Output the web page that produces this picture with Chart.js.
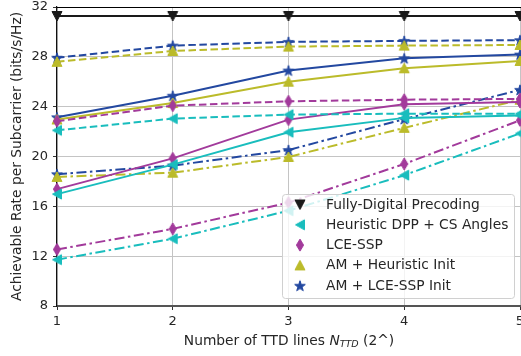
<!DOCTYPE html>
<html>
<head>
<meta charset="utf-8">
<script src="https://cdn.jsdelivr.net/npm/chart.js@4.4.1/dist/chart.umd.min.js"></script>
<style>
  html, body { margin: 0; padding: 0; background: #fff; overflow: hidden; }
  #wrap { width: 521px; height: 356px; overflow: hidden; }
</style>
</head>
<body>
<div id="wrap"><canvas id="rateChart" width="540" height="356"></canvas></div>
<script>
// number of TTD lines (log2)
var nTTD = [1, 2, 3, 4, 5];
var yTicks = [8, 12, 16, 20, 24, 28, 32];

var fullDigital = [31.28, 31.28, 31.28, 31.28, 31.28];

// Heuristic DPP + CS angles
var dppSolid   = [16.98, 19.35, 21.95, 23.1, 23.3];
var dppDashed  = [22.1, 23.04, 23.36, 23.44, 23.44];
var dppDashdot = [11.72, 13.4, 15.65, 18.5, 21.85];

// LCE-SSP
var lceSolid   = [17.38, 19.85, 22.96, 24.2, 24.37];
var lceDashed  = [22.83, 24.08, 24.43, 24.56, 24.62];
var lceDashdot = [12.54, 14.19, 16.3, 19.4, 22.9];

// AM + heuristic init
var amhSolid   = [22.97, 24.29, 26.0, 27.08, 27.67];
var amhDashed  = [27.6, 28.47, 28.82, 28.9, 28.95];
var amhDashdot = [18.36, 18.7, 19.96, 22.3, 24.56];

// AM + LCE-SSP init
var amlSolid   = [23.15, 24.88, 26.9, 27.88, 28.18];
var amlDashed  = [27.93, 28.9, 29.2, 29.28, 29.34];
var amlDashdot = [18.58, 19.27, 20.52, 23.0, 25.35];

var legendNames = ['Fully-Digital Precoding', 'Heuristic DPP + CS Angles', 'LCE-SSP', 'AM + Heuristic Init', 'AM + LCE-SSP Init'];

var BLACK = '#1a1a1a';
var CYAN = '#19bdbd';
var PURPLE = '#a23a9b';
var OLIVE = '#bbbb2a';
var BLUE = '#2348a0';

var SOLID = [];
var DASHED = [7.5, 3.5];
var DASHDOT = [10, 3.5, 2.5, 3.5];

var LABEL_FONT = '13.8px "DejaVu Sans"';

function makeMarker(kind, color) {
    var c = document.createElement('canvas');
    c.width = 16; c.height = 16;
    var g = c.getContext('2d');
    g.fillStyle = color;
    g.strokeStyle = color;
    g.lineWidth = 1;
    g.beginPath();
    if (kind === 'down') {
        g.moveTo(3, 3.5); g.lineTo(13, 3.5); g.lineTo(8, 13);
    } else if (kind === 'left') {
        g.moveTo(3.5, 8); g.lineTo(12.5, 3); g.lineTo(12.5, 13);
    } else if (kind === 'up') {
        g.moveTo(8, 3); g.lineTo(13, 12.5); g.lineTo(3, 12.5);
    } else if (kind === 'diamond') {
        g.moveTo(8, 2); g.lineTo(11.6, 8); g.lineTo(8, 14); g.lineTo(4.4, 8);
    } else if (kind === 'star') {
        for (var i = 0; i < 10; i++) {
            var r = (i % 2) ? 2.2 : 5.6;
            var a = -Math.PI / 2 + i * Math.PI / 5;
            var px = 8 + r * Math.cos(a), py = 8.5 + r * Math.sin(a);
            if (i === 0) g.moveTo(px, py); else g.lineTo(px, py);
        }
    }
    g.closePath();
    g.fill();
    g.stroke();
    return c;
}

var markers = [
    makeMarker('down', BLACK),
    makeMarker('left', CYAN),
    makeMarker('diamond', PURPLE),
    makeMarker('up', OLIVE),
    makeMarker('star', BLUE)
];

function toPoints(vals) {
    return nTTD.map(function(x, i) { return { x: x, y: vals[i] }; });
}

function series(vals, color, dash, marker) {
    return {
        data: toPoints(vals),
        borderColor: color,
        backgroundColor: color,
        borderWidth: 2,
        borderDash: dash,
        pointStyle: marker || false,
        pointRadius: marker ? 5 : 0,
        fill: false,
        tension: 0,
        clip: false
    };
}

var datasets = [
    series(fullDigital, BLACK, SOLID, markers[0]),
    series(dppSolid, CYAN, SOLID, markers[1]),
    series(dppDashed, CYAN, DASHED, markers[1]),
    series(dppDashdot, CYAN, DASHDOT, markers[1]),
    series(lceSolid, PURPLE, SOLID, markers[2]),
    series(lceDashed, PURPLE, DASHED, markers[2]),
    series(lceDashdot, PURPLE, DASHDOT, markers[2]),
    series(amhSolid, OLIVE, SOLID, markers[3]),
    series(amhDashed, OLIVE, DASHED, markers[3]),
    series(amhDashdot, OLIVE, DASHDOT, markers[3]),
    series(amlSolid, BLUE, SOLID, markers[4]),
    series(amlDashed, BLUE, DASHED, markers[4]),
    series(amlDashdot, BLUE, DASHDOT, markers[4])
];
// light dashed trace over the fully-digital reference line
var fdOverlay = series(fullDigital, 'rgba(150,150,150,0.9)', [5, 3], null);
fdOverlay.borderWidth = 1;
datasets.push(fdOverlay);

// legend box, axis titles and top spine
var decorations = {
    id: 'decorations',
    afterDraw: function(chart) {
        var ctx = chart.ctx;
        var area = chart.chartArea;
        ctx.save();

        ctx.strokeStyle = '#000';
        ctx.lineWidth = 1;
        ctx.beginPath();
        ctx.moveTo(area.left, area.top + 0.5);
        ctx.lineTo(area.right + 20, area.top + 0.5);
        ctx.stroke();

        // legend
        var lx = 282, ly = 194, lw = 232, lh = 104;
        ctx.beginPath();
        ctx.roundRect(lx + 0.5, ly + 0.5, lw, lh, 3);
        ctx.fillStyle = 'rgba(255,255,255,0.8)';
        ctx.fill();
        ctx.strokeStyle = '#d0d0d0';
        ctx.lineWidth = 1;
        ctx.stroke();
        ctx.font = LABEL_FONT;
        ctx.fillStyle = '#262626';
        ctx.textBaseline = 'middle';
        ctx.textAlign = 'left';
        for (var i = 0; i < legendNames.length; i++) {
            var rowY = 204.5 + i * 20.3;
            ctx.drawImage(markers[i], 300 - 8, rowY - 8);
            ctx.fillText(legendNames[i], 326, rowY + 0.5);
        }

        // x title with italic subscript
        var y0 = 341;
        var p1 = 'Number of TTD lines ', p2 = 'N', p3 = 'TTD', p4 = ' (2^)';
        ctx.font = LABEL_FONT;
        var w1 = ctx.measureText(p1).width, w4 = ctx.measureText(p4).width;
        ctx.font = 'italic ' + LABEL_FONT;
        var w2 = ctx.measureText(p2).width;
        ctx.font = 'italic 9.5px "DejaVu Sans"';
        var w3 = ctx.measureText(p3).width;
        var x0 = 289 - (w1 + w2 + w3 + w4) / 2;
        ctx.textBaseline = 'middle';
        ctx.font = LABEL_FONT;
        ctx.fillText(p1, x0, y0);
        ctx.font = 'italic ' + LABEL_FONT;
        ctx.fillText(p2, x0 + w1, y0);
        ctx.font = 'italic 9.5px "DejaVu Sans"';
        ctx.fillText(p3, x0 + w1 + w2, y0 + 3.5);
        ctx.font = LABEL_FONT;
        ctx.fillText(p4, x0 + w1 + w2 + w3, y0);

        // y title
        ctx.translate(17.5, (area.top + area.bottom) / 2);
        ctx.rotate(-Math.PI / 2);
        ctx.textAlign = 'center';
        ctx.fillText('Achievable Rate per Subcarrier (bits/s/Hz)', 0, 0);
        ctx.restore();
    }
};

Chart.defaults.font.family = '"DejaVu Sans"';
Chart.defaults.font.size = 13;
Chart.defaults.color = '#262626';

var ctx = document.getElementById('rateChart');
var myChart = new Chart(ctx, {
    type: 'line',
    data: { datasets: datasets },
    plugins: [decorations],
    options: {
        responsive: false,
        animation: false,
        events: [],
        layout: { padding: { left: 0, top: 5, right: 20, bottom: 0 } },
        plugins: {
            legend: { display: false },
            tooltip: { enabled: false }
        },
        scales: {
            x: {
                type: 'linear',
                min: 1,
                max: 5,
                afterBuildTicks: function(scale) {
                    scale.ticks = nTTD.map(function(v) { return { value: v }; });
                },
                afterFit: function(scale) {
                    scale.height = 50;
                    scale.paddingLeft = 0;
                    scale.paddingRight = 0;
                },
                ticks: { padding: 4, maxRotation: 0, color: '#262626' },
                grid: { color: '#c4c4c4', lineWidth: 1, tickLength: 4, tickColor: '#333' },
                border: { display: true, color: '#555', width: 2 }
            },
            y: {
                min: 8,
                max: 32,
                afterBuildTicks: function(scale) {
                    scale.ticks = yTicks.map(function(v) { return { value: v }; });
                },
                afterFit: function(scale) {
                    scale.width = 57;
                    scale.paddingTop = 0;
                    scale.paddingBottom = 0;
                },
                ticks: { padding: 5, color: '#262626' },
                grid: { color: '#c4c4c4', lineWidth: 1, tickLength: 4, tickColor: '#333' },
                border: { display: true, color: '#111', width: 1.2 }
            }
        }
    }
});
</script>
</body>
</html>
